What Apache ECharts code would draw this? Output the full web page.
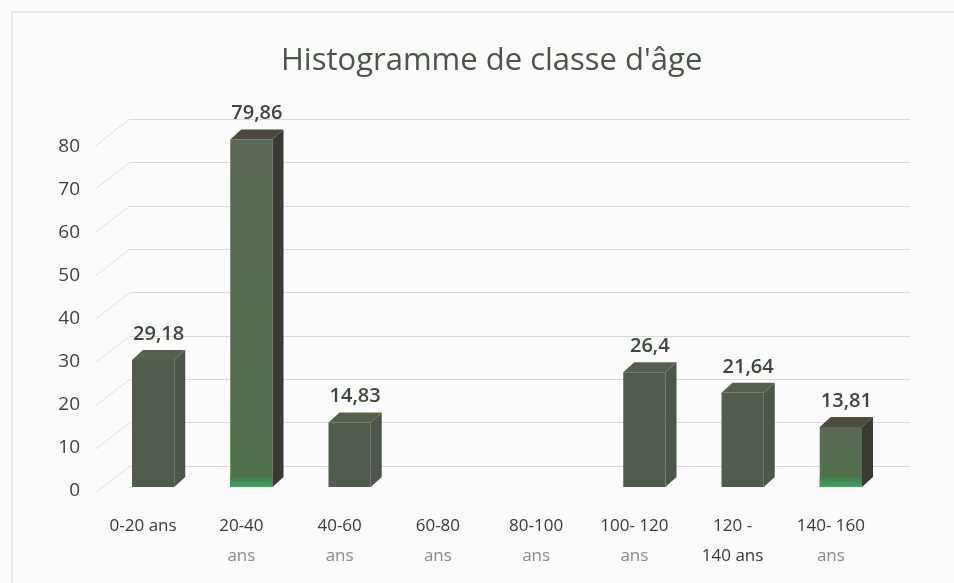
<!DOCTYPE html>
<html>
<head>
<meta charset="utf-8">
<script src="https://cdn.jsdelivr.net/npm/echarts@6/dist/echarts.min.js"></script>
<style>
  html, body { margin: 0; padding: 0; background: #fafbfa; }
  #chart { width: 954px; height: 583px; }
</style>
</head>
<body>
<div id="chart"></div>
<script>
const FONT = '"Open Sans", Lato, sans-serif';

const categories = ['0-20 ans', '20-40\nans', '40-60\nans', '60-80\nans', '80-100\nans', '100- 120\nans', '120 -\n140 ans', '140- 160\nans'];
const values = [29.18, 79.86, 14.83, null, null, 26.4, 21.64, 13.81];
const greenBars = [false, true, false, false, false, false, false, true];
const yTicks = [0, 10, 20, 30, 40, 50, 60, 70, 80];

// 3d depth of the prisms and of the back wall
const DX = 11, DY = 10;
const WALL_DX = 35, WALL_DY = 27;

const renderBar = (params, api) => {
  const v = api.value(1);
  if (v == null || isNaN(v)) return;
  const i = api.value(0);
  const base = api.coord([i, 0]);
  const top = api.coord([i, v]);
  const w = api.size([1, 0])[0] * 0.43;
  const x0 = base[0] - w / 2 - 5;
  const h = base[1] - top[1];
  const green = greenBars[i];
  const front = green
    ? new echarts.graphic.LinearGradient(0, 0, 0, 1, [
        { offset: 0, color: '#5c6856' },
        { offset: 1, color: '#4e7049' },
      ])
    : '#515b4e';
  const side = green ? '#3a3a34' : '#4d564a';
  const topFace = green ? '#4d4a40' : '#57604f';
  const children = [
    { type: 'rect', shape: { x: x0, y: top[1], width: w, height: h }, style: { fill: front } },
    {
      type: 'polygon',
      shape: { points: [[x0 + w, top[1]], [x0 + w + DX, top[1] - DY], [x0 + w + DX, base[1] - DY], [x0 + w, base[1]]] },
      style: { fill: side },
    },
    {
      type: 'polygon',
      shape: { points: [[x0, top[1]], [x0 + DX, top[1] - DY], [x0 + w + DX, top[1] - DY], [x0 + w, top[1]]] },
      style: { fill: topFace },
    },
    {
      type: 'text',
      style: {
        text: String(v).replace('.', ','),
        x: x0 + w / 2 + DX / 2,
        y: top[1] - DY - 6,
        align: 'center',
        verticalAlign: 'bottom',
        fill: '#3b483a',
        font: '600 20px ' + FONT,
      },
    },
  ];
  if (green) {
    children.push({
      type: 'rect',
      shape: { x: x0, y: base[1] - 11, width: w, height: 11 },
      style: {
        fill: new echarts.graphic.LinearGradient(0, 0, 0, 1, [
          { offset: 0, color: '#4e7049' },
          { offset: 1, color: '#2fae5c' },
        ]),
      },
    });
  }
  return { type: 'group', children };
};

const renderConnector = (params, api) => {
  const p = api.coord([0, api.value(1)]);
  return {
    type: 'line',
    shape: { x1: p[0] - WALL_DX, y1: p[1] + WALL_DY, x2: p[0], y2: p[1] },
    style: { stroke: '#dfe1df', lineWidth: 1 },
  };
};

const chart = echarts.init(document.getElementById('chart'));

chart.setOption({
  backgroundColor: '#fafbfa',
  animation: false,
  title: {
    text: "Histogramme de classe d'âge",
    left: 276,
    top: 41,
    textStyle: { fontFamily: FONT, fontSize: 31, fontWeight: 'normal', color: '#4a5548' },
  },
  graphic: [
    {
      type: 'rect',
      shape: { x: 12, y: 12, width: 960, height: 600 },
      style: { fill: 'none', stroke: '#d4d7d4', lineWidth: 1 },
      z: -10,
    },
  ],
  grid: [
    { left: 109, right: 59, top: 147, bottom: 92 },
    { left: 130, right: 44, top: 119, bottom: 117 },
    { left: 109, right: 59, top: 139, bottom: 96 },
  ],
  xAxis: [
    {
      type: 'category',
      gridIndex: 0,
      data: categories,
      axisLine: { show: false },
      axisTick: { show: false },
      axisLabel: {
        interval: 0,
        margin: 20,
        padding: [0, 30, 0, 0],
        formatter: (val) =>
          val
            .split('\n')
            .map((l, k) => (k === 0 || /\d/.test(l) ? '{a|' + l + '}' : '{b|' + l + '}'))
            .join('\n'),
        rich: {
          a: { fontFamily: FONT, fontSize: 17, color: '#353d33', lineHeight: 30 },
          b: { fontFamily: FONT, fontSize: 17, color: '#868c85', lineHeight: 30 },
        },
      },
    },
    { type: 'value', gridIndex: 1, min: 0, max: 1, show: false },
    { type: 'category', gridIndex: 2, data: categories, show: false },
  ],
  yAxis: [
    {
      type: 'value',
      gridIndex: 0,
      min: 0,
      max: 80,
      interval: 10,
      axisLine: { show: false },
      axisTick: { show: false },
      splitLine: { show: false },
      axisLabel: { margin: 29, fontFamily: FONT, fontSize: 19, color: '#3a4339' },
    },
    {
      type: 'value',
      gridIndex: 1,
      min: 0,
      max: 80,
      interval: 10,
      axisLine: { show: false },
      axisTick: { show: false },
      axisLabel: { show: false },
      splitLine: { lineStyle: { color: '#d9dbd9', width: 1 } },
    },
    { type: 'value', gridIndex: 2, min: 0, max: 80, show: false },
  ],
  series: [
    {
      type: 'custom',
      xAxisIndex: 1,
      yAxisIndex: 1,
      renderItem: renderConnector,
      data: yTicks.map((t) => [0, t]),
      silent: true,
      z: 1,
    },
    {
      type: 'custom',
      xAxisIndex: 2,
      yAxisIndex: 2,
      renderItem: renderBar,
      data: values.map((v, i) => [i, v]),
      z: 5,
    },
  ],
});
</script>
</body>
</html>
